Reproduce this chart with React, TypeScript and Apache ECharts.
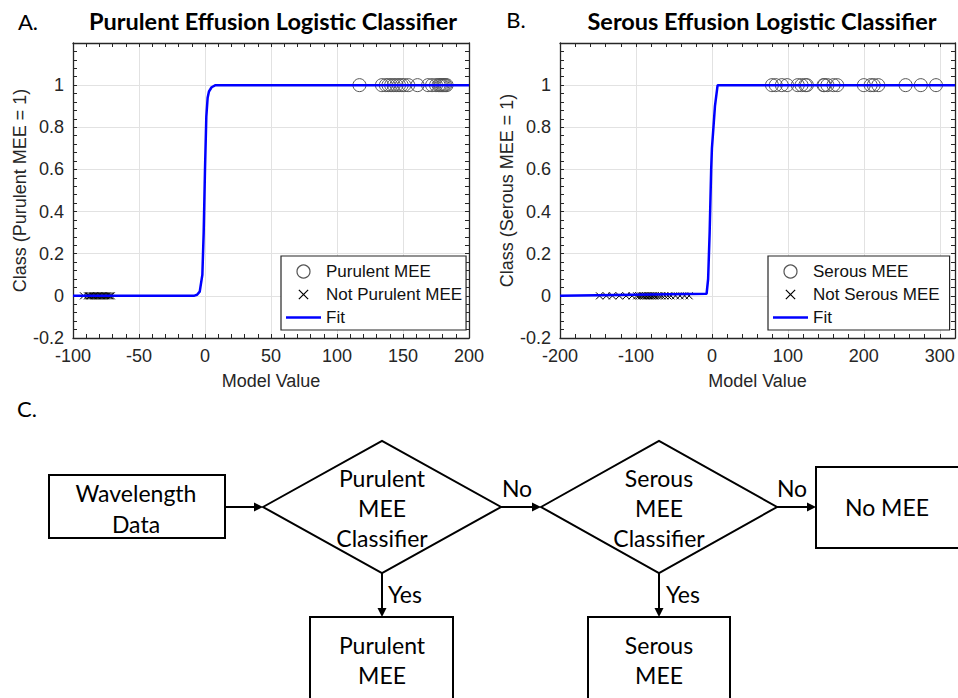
import React, { useEffect, useRef } from "react";
import * as echarts from "echarts";

// ---------- data ----------
const purulentMEE = [117, 134, 137, 139, 141, 143, 145, 147, 149, 151, 154, 161, 169, 172, 175, 177, 178, 179, 180, 181, 182, 183];
const notPurulentMEE = [-92, -89, -88, -87, -86, -85, -84, -83, -82, -81, -80, -79, -78, -77, -76, -75, -74, -73, -72, -71];
const fitAX = [-100, -8, -6, -4, -2, -1, 0, 1, 2, 3, 5, 8, 200];
const fitAY = [0, 0.001, 0.005, 0.02, 0.1, 0.3, 0.6, 0.85, 0.94, 0.97, 0.99, 1, 1];

const serousMEE = [79, 84, 92, 99, 113, 118, 123, 125, 147, 148, 152, 160, 165, 200, 209, 213, 219, 255, 275, 295];
const notSerousMEE = [-148, -139, -131, -122, -113, -105, -99, -96, -93, -91, -89, -87, -85, -83, -81, -79, -77, -75, -72, -69, -66, -62, -58, -54, -48, -42, -36, -30];
const fitBX = [-200, -7, -5, -3, -1, 0, 2, 4, 7.5, 320];
const fitBY = [0, 0.01, 0.08, 0.3, 0.6, 0.7, 0.8, 0.9, 1, 1];

const xTicksA = [-100, -50, 0, 50, 100, 150, 200];
const xTicksB = [-200, -100, 0, 100, 200, 300];
const xMaxB = 320;
const yTicks = [-0.2, 0, 0.2, 0.4, 0.6, 0.8, 1];
const yMax = 1.2;

// ---------- styling ----------
const AX = "#262626";
const SANS = "'Liberation Sans', Arial, sans-serif";
const CAL = "Lato, 'Open Sans', sans-serif";
const X_SYMBOL = "path://M0,0L10,10M10,0L0,10";
const X_LEGEND = "path://M-2,-2M12,12M0,0L10,10M10,0L0,10";
const LINE_LEGEND = "path://M0,0L35,0L35,2.5L0,2.5Z";

function axesFor(
  dir: "x" | "y",
  gridIndex: number,
  min: number,
  max: number,
  major: number,
  minor: number,
  name: string,
  nameGap: number
) {
  const lineStyle = { color: AX, width: 1.3 };
  const tick = { show: true, inside: true, length: 4, lineStyle: { color: AX, width: 1 } };
  const primary: any = {
    type: "value",
    gridIndex,
    min,
    max,
    interval: major,
    position: dir === "x" ? "bottom" : "left",
    axisLine: { show: true, onZero: false, lineStyle },
    axisTick: { show: false },
    minorTick: { show: false },
    axisLabel: {
      show: true,
      fontFamily: SANS,
      fontSize: 18,
      color: AX,
      margin: 9,
      showMaxLabel: max % major === 0 && dir === "x",
      showMinLabel: true,
      hideOverlap: false,
    },
    splitLine: { show: true, lineStyle: { color: "#e2e2e2", width: 1 } },
    name,
    nameLocation: "middle",
    nameGap,
    nameTextStyle: { fontFamily: SANS, fontSize: 18, color: AX },
  };
  const minorAxis: any = {
    type: "value",
    gridIndex,
    min,
    max,
    interval: minor,
    position: dir === "x" ? "bottom" : "left",
    axisLine: { show: false, onZero: false },
    axisTick: tick,
    axisLabel: { show: false },
    splitLine: { show: false },
  };
  const opposite: any = {
    type: "value",
    gridIndex,
    min,
    max,
    interval: minor,
    position: dir === "x" ? "top" : "right",
    axisLine: { show: true, onZero: false, lineStyle },
    axisTick: tick,
    axisLabel: { show: false },
    splitLine: { show: false },
  };
  return [primary, minorAxis, opposite];
}

function scatterSeries(name: string, xs: number[], y: number, axis: number, cross: boolean) {
  return {
    type: "scatter",
    name,
    xAxisIndex: axis,
    yAxisIndex: axis,
    data: xs.map((x) => [x, y]),
    symbol: cross ? X_SYMBOL : "circle",
    symbolSize: cross ? 7 : 13,
    itemStyle: {
      color: "rgba(0,0,0,0)",
      borderColor: cross ? "#000" : "#555",
      borderWidth: 1,
      opacity: 1,
    },
    emphasis: { disabled: true },
    z: 2,
  };
}

function fitSeries(xs: number[], ys: number[], axis: number) {
  return {
    type: "line",
    name: "Fit",
    xAxisIndex: axis,
    yAxisIndex: axis,
    data: xs.map((x, i) => [x, ys[i]]),
    symbol: "none",
    showSymbol: false,
    lineStyle: { color: "#0000ff", width: 2.5 },
    itemStyle: { color: "#0000ff" },
    emphasis: { disabled: true },
    z: 3,
  };
}

const legendBase = {
  orient: "vertical",
  top: 256,
  itemWidth: 35,
  itemHeight: 13,
  itemGap: 6,
  borderColor: AX,
  borderWidth: 1.2,
  backgroundColor: "#fff",
  selectedMode: false,
  itemStyle: { borderWidth: 1.2 },
  textStyle: { fontFamily: SANS, fontSize: 17, color: "#111" },
  z: 10,
};

const fitLegendItem = {
  name: "Fit",
  icon: LINE_LEGEND,
  itemStyle: { color: "#0000ff", borderWidth: 0, borderColor: "#0000ff" },
};

function txt(text: string, x: number, y: number, size: number, opts: any = {}) {
  return {
    type: "text",
    x,
    y,
    z: 20,
    style: {
      text,
      fill: "#000",
      fontSize: size,
      fontFamily: CAL,
      fontWeight: opts.bold ? "bold" : "normal",
      align: opts.align || "center",
      textAlign: opts.align || "center",
      verticalAlign: "middle",
      textVerticalAlign: "middle",
    },
  };
}

const boxStyle = { fill: "#fff", stroke: "#000", lineWidth: 2 };

function rect(x: number, y: number, w: number, h: number) {
  return { type: "rect", shape: { x, y, width: w, height: h }, style: boxStyle, z: 15 };
}
function diamond(cx: number, cy: number, hw: number, hh: number) {
  return {
    type: "polygon",
    shape: { points: [[cx - hw, cy], [cx, cy - hh], [cx + hw, cy], [cx, cy + hh]] },
    style: boxStyle,
    z: 15,
  };
}
function arrowRight(x1: number, x2: number, y: number) {
  return [
    { type: "line", shape: { x1, y1: y, x2: x2 - 6, y2: y }, style: { stroke: "#000", lineWidth: 2 }, z: 16 },
    { type: "polygon", shape: { points: [[x2 - 9, y - 4.5], [x2, y], [x2 - 9, y + 4.5]] }, style: { fill: "#000" }, z: 16 },
  ];
}
function arrowDown(x: number, y1: number, y2: number) {
  return [
    { type: "line", shape: { x1: x, y1, x2: x, y2: y2 - 6 }, style: { stroke: "#000", lineWidth: 2 }, z: 16 },
    { type: "polygon", shape: { points: [[x - 4.5, y2 - 9], [x, y2], [x + 4.5, y2 - 9]] }, style: { fill: "#000" }, z: 16 },
  ];
}

export default function App() {
  const ref = useRef<HTMLDivElement>(null);
  useEffect(() => {
    if (!ref.current) return;
    const chart = echarts.init(ref.current, null, { renderer: "svg" });

    const xA = axesFor("x", 0, xTicksA[0], xTicksA[xTicksA.length - 1], xTicksA[1] - xTicksA[0], 10, "Model Value", 34);
    const xB = axesFor("x", 1, xTicksB[0], xMaxB, xTicksB[1] - xTicksB[0], 20, "Model Value", 34);
    const yA = axesFor("y", 0, yTicks[0], yMax, 0.2, 0.04, "Class (Purulent MEE = 1)", 43);
    const yB = axesFor("y", 1, yTicks[0], yMax, 0.2, 0.04, "Class (Serous MEE = 1)", 43);

    const option: any = {
      animation: false,
      backgroundColor: "#fff",
      textStyle: { fontFamily: SANS },
      grid: [
        { left: 73, top: 43, width: 396, height: 295, outerBoundsMode: "none", containLabel: false },
        { left: 560, top: 43, width: 395, height: 295, outerBoundsMode: "none", containLabel: false },
      ],
      xAxis: [...xA, ...xB],
      yAxis: [...yA, ...yB],
      legend: [
        {
          ...legendBase,
          left: 281,
          padding: [7, 4, 4, 5],
          data: [
            { name: "Purulent MEE", icon: "circle" },
            { name: "Not Purulent MEE", icon: X_LEGEND },
            fitLegendItem,
          ],
        },
        {
          ...legendBase,
          left: 768,
          padding: [7, 10, 4, 5],
          data: [
            { name: "Serous MEE", icon: "circle" },
            { name: "Not Serous MEE", icon: X_LEGEND },
            fitLegendItem,
          ],
        },
      ],
      series: [
        scatterSeries("Purulent MEE", purulentMEE, 1, 0, false),
        scatterSeries("Not Purulent MEE", notPurulentMEE, 0, 0, true),
        fitSeries(fitAX, fitAY, 0),
        scatterSeries("Serous MEE", serousMEE, 1, 3, false),
        scatterSeries("Not Serous MEE", notSerousMEE, 0, 3, true),
        fitSeries(fitBX, fitBY, 3),
      ],
      graphic: [
        txt("A.", 28, 21, 22),
        txt("Purulent Effusion Logistic Classifier", 273, 21, 23.5, { bold: true }),
        txt("B.", 516, 19, 22),
        txt("Serous Effusion Logistic Classifier", 762, 21, 23.5, { bold: true }),
        txt("C.", 27, 408, 22),
        rect(49, 475, 176, 63),
        diamond(382, 507, 119, 66),
        diamond(659, 507, 118, 66),
        rect(816, 467, 160, 81),
        rect(310, 617, 143, 100),
        rect(588, 617, 142, 100),
        ...arrowRight(225, 263, 507),
        ...arrowRight(501, 541, 507),
        ...arrowRight(777, 816, 507),
        ...arrowDown(382, 573, 617),
        ...arrowDown(659, 573, 617),
        txt("Wavelength", 136, 493, 23),
        txt("Data", 136, 524, 23),
        txt("Purulent", 382, 478, 23),
        txt("MEE", 382, 508, 23),
        txt("Classifier", 382, 538, 23),
        txt("Serous", 659, 478, 23),
        txt("MEE", 659, 508, 23),
        txt("Classifier", 659, 538, 23),
        txt("No", 517, 488, 23),
        txt("No", 792, 488, 23),
        txt("No MEE", 887, 507, 23),
        txt("Yes", 405, 594, 23),
        txt("Yes", 683, 594, 23),
        txt("Purulent", 382, 645, 23),
        txt("MEE", 382, 675, 23),
        txt("Serous", 659, 645, 23),
        txt("MEE", 659, 675, 23),
      ],
    };
    chart.setOption(option);
    return () => chart.dispose();
  }, []);
  return (
    <div
      ref={ref}
      style={{ position: "absolute", left: 0, top: 0, width: 958, height: 698, background: "#fff" }}
    />
  );
}
